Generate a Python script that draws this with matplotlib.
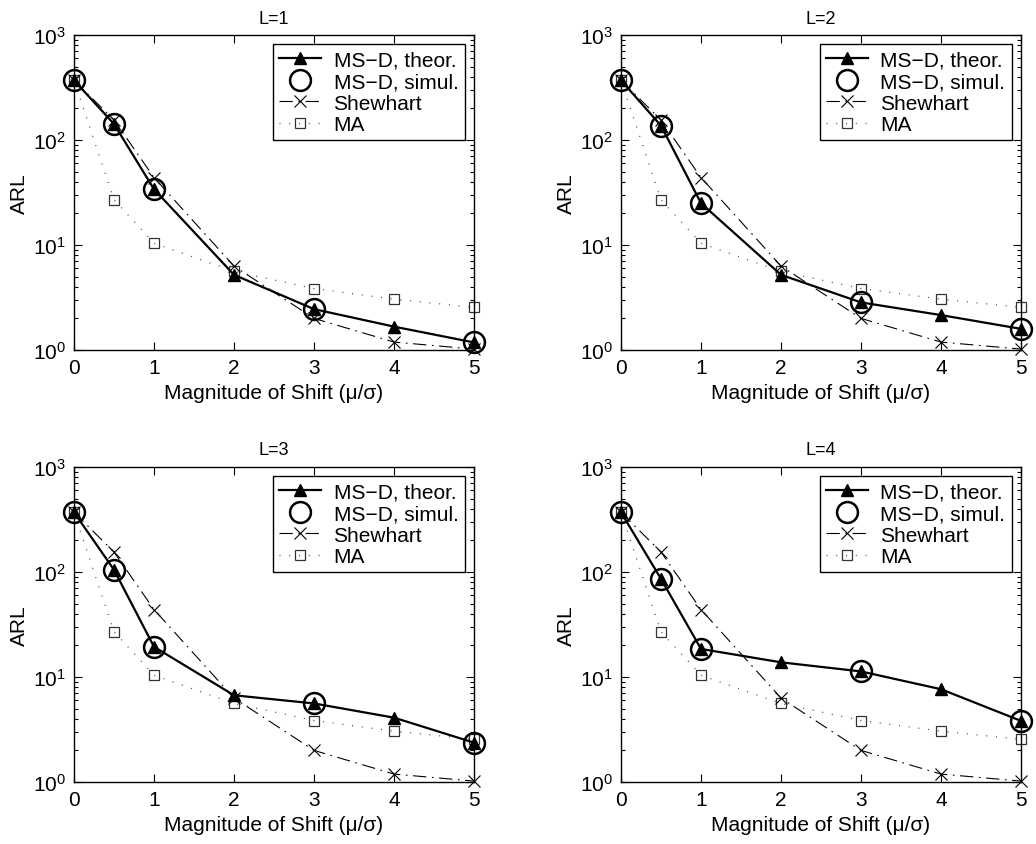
import matplotlib
matplotlib.use("Agg")
import matplotlib.pyplot as plt
from matplotlib.ticker import LogLocator, FixedLocator

plt.rcParams['font.family'] = ['Liberation Sans', 'DejaVu Sans']
plt.rcParams['mathtext.fontset'] = 'custom'
plt.rcParams['mathtext.rm'] = 'Liberation Sans'
plt.rcParams['mathtext.it'] = 'Liberation Sans:italic'

# ---- data ----
shifts = [0, 0.5, 1, 2, 3, 4, 5]
titles = ["L=1", "L=2", "L=3", "L=4"]

msd_theor = [
    [370, 142, 34, 5.2, 2.45, 1.67, 1.18],
    [370, 137, 25, 5.2, 2.84, 2.15, 1.59],
    [370, 105, 19.4, 6.7, 5.6, 4.1, 2.37],
    [370, 86, 18.5, 13.8, 11.3, 7.65, 3.82],
]
simul_shifts = [0, 0.5, 1, 3, 5]
msd_simul = [
    [370, 142, 34, 2.45, 1.18],
    [370, 137, 25, 2.84, 1.59],
    [370, 105, 19.4, 5.6, 2.37],
    [370, 86, 18.5, 11.3, 3.82],
]
shewhart = [370, 155, 43.9, 6.3, 2.0, 1.19, 1.02]
ma = [370, 27, 10.4, 5.6, 3.85, 3.05, 2.55]

legend_labels = ["MS\u2212D, theor.", "MS\u2212D, simul.", "Shewhart", "MA"]

fig = plt.figure(figsize=(10.36, 8.45), dpi=100)
W, H = 1036, 845
boxes = [(74, 36), (621, 36), (74, 468), (621, 468)]
aw, ah = 400, 315

for i, (x0, y0) in enumerate(boxes):
    ax = fig.add_axes([x0 / W, (H - y0 - ah) / H, aw / W, ah / H])
    ax.set_yscale('log')
    l_ma, = ax.plot(shifts, ma, color='#444444', lw=0.9, dashes=(0.8, 7),
                    marker='s', ms=7, mfc='none', mec='#333333', mew=0.9,
                    zorder=2, clip_on=False)
    l_sh, = ax.plot(shifts, shewhart, color='black', lw=0.8, dashes=(12, 5, 1.5, 5),
                    marker='x', ms=8, mec='black', mew=0.8, zorder=3, clip_on=False)
    l_th, = ax.plot(shifts, msd_theor[i], color='black', lw=1.6, marker='^',
                    ms=9, mfc='black', mec='black', zorder=4, clip_on=False)
    l_si, = ax.plot(simul_shifts, msd_simul[i], ls='none', marker='o', ms=15,
                    mfc='none', mec='black', mew=1.8, zorder=5, clip_on=False)
    ax.set_xlim(0, 5)
    ax.set_ylim(1, 1000)
    ax.xaxis.set_major_locator(FixedLocator([0, 1, 2, 3, 4, 5]))
    ax.yaxis.set_major_locator(LogLocator(base=10, numticks=10))
    ax.yaxis.set_minor_locator(LogLocator(base=10, subs=range(2, 10), numticks=10))
    ax.tick_params(which='both', direction='in', top=True, right=True,
                   labelsize=15, width=0.8)
    ax.tick_params(which='major', length=6, pad=6)
    ax.tick_params(which='minor', length=3)
    for s in ax.spines.values():
        s.set_linewidth(1.0)
    ax.set_title(titles[i], fontsize=13, pad=9)
    ax.set_xlabel("Magnitude of Shift (\u03bc/\u03c3)", fontsize=15, labelpad=4)
    ax.set_ylabel("ARL", fontsize=15, labelpad=3)
    leg = ax.legend([l_th, l_si, l_sh, l_ma], legend_labels, loc='upper right',
                    fontsize=15, frameon=True, fancybox=False, framealpha=1,
                    edgecolor='black', borderaxespad=0.45, handlelength=2.0,
                    labelspacing=0.12, handletextpad=0.6, borderpad=0.3)
    leg.get_frame().set_linewidth(1.0)
    leg.set_zorder(10)

fig.savefig("out.png", dpi=100)
